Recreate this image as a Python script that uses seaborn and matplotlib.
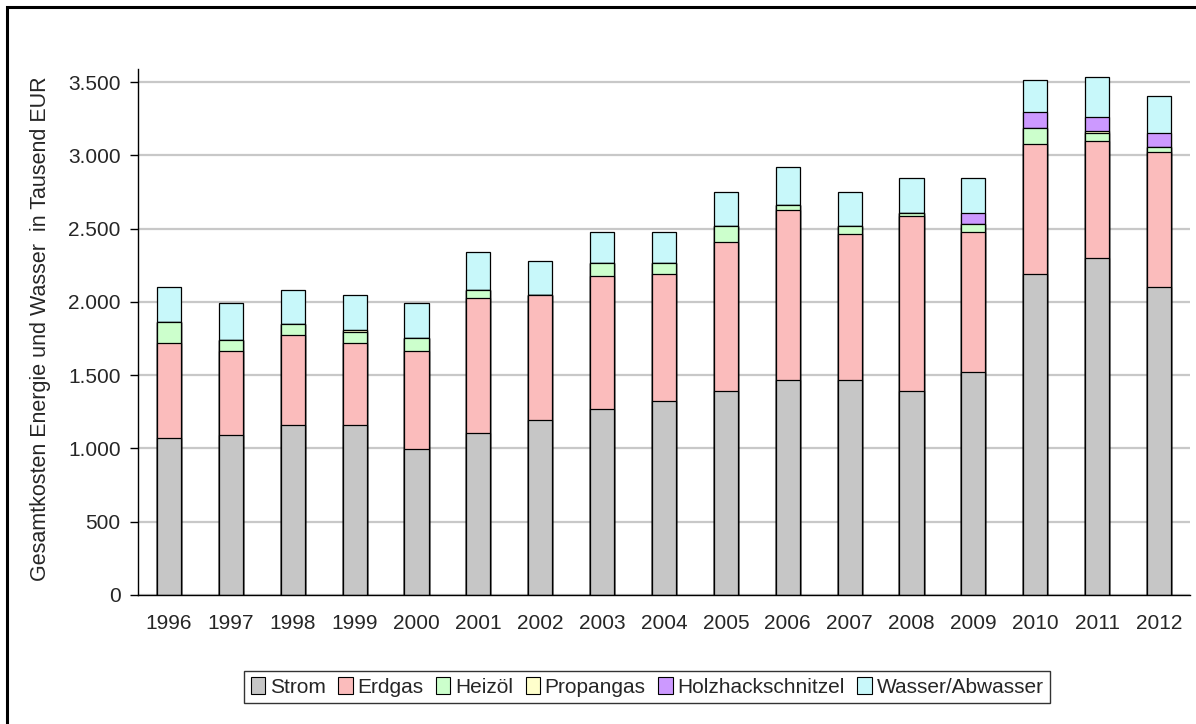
import matplotlib
matplotlib.use("Agg")
import matplotlib.pyplot as plt
import matplotlib.patches as mpatches
import seaborn as sns
import pandas as pd

# Werte in Tausend EUR
years = ["1996", "1997", "1998", "1999", "2000", "2001", "2002", "2003", "2004",
         "2005", "2006", "2007", "2008", "2009", "2010", "2011", "2012"]
strom = [1069, 1089, 1159, 1159, 997, 1106, 1196, 1269, 1322, 1393, 1466, 1466, 1393, 1522, 2192, 2302, 2102]
erdgas = [652, 576, 615, 562, 668, 919, 851, 906, 870, 1016, 1159, 996, 1196, 957, 888, 795, 922]
heizoel = [143, 73, 73, 73, 92, 58, 0, 90, 73, 109, 36, 56, 19, 56, 109, 55, 36]
propangas = [0, 0, 0, 17, 0, 0, 0, 0, 0, 0, 0, 0, 0, 0, 0, 18, 0]
holz = [0, 0, 0, 0, 0, 0, 0, 0, 0, 0, 0, 0, 0, 73, 107, 92, 92]
wasser = [238, 255, 236, 236, 236, 255, 235, 214, 214, 233, 258, 233, 236, 236, 216, 270, 253]

series = ["Strom", "Erdgas", "Heizöl", "Propangas", "Holzhackschnitzel", "Wasser/Abwasser"]
colors = ["#C6C6C6", "#FBBCBC", "#CCFFCC", "#FFFFCC", "#CC99FF", "#C8F8FA"]
ytick_vals = [0, 500, 1000, 1500, 2000, 2500, 3000, 3500]
ytick_labels = ["0", "500", "1.000", "1.500", "2.000", "2.500", "3.000", "3.500"]

df = pd.DataFrame({"Jahr": years, "Strom": strom, "Erdgas": erdgas, "Heizöl": heizoel,
                   "Propangas": propangas, "Holzhackschnitzel": holz, "Wasser/Abwasser": wasser})
cum = df[series].cumsum(axis=1)
cum["Jahr"] = df["Jahr"]

sns.set_style("white")
plt.rcParams["font.family"] = ["Liberation Sans", "DejaVu Sans"]
fs = 15

fig = plt.figure(figsize=(11.96, 7.24), dpi=100)
ax = fig.add_axes([138 / 1196, 129 / 724, 1052 / 1196, 526 / 724])

# gestapelte Balken: kumulierte Summen von oben nach unten zeichnen
for name, col in reversed(list(zip(series, colors))):
    sns.barplot(data=cum, x="Jahr", y=name, color=col, edgecolor="black", linewidth=0.9,
                width=0.39, errorbar=None, saturation=1, ax=ax)

ax.set_ylim(0, 3590)
ax.set_xlim(-0.5, len(years) - 0.5)
ax.set_yticks(ytick_vals)
ax.set_yticklabels(ytick_labels)
ax.yaxis.grid(True, color="#C8C8C8", linewidth=1.6)
ax.set_axisbelow(True)

ax.set_xticks(range(len(years)))
ax.set_xticklabels(years)
ax.set_xticks([i - 0.5 for i in range(len(years) + 1)], minor=True)
ax.tick_params(axis="x", which="major", length=0, pad=14, labelsize=fs)
ax.tick_params(axis="x", which="minor", length=4, width=1, color="black", direction="out")
ax.tick_params(axis="y", length=5.5, width=1, color="black", pad=7, labelsize=fs, left=True)

for s in ["top", "right"]:
    ax.spines[s].set_visible(False)
for s in ["left", "bottom"]:
    ax.spines[s].set_color("black")
    ax.spines[s].set_linewidth(1)

ax.set_xlabel("")
ax.set_ylabel("Gesamtkosten Energie und Wasser  in Tausend EUR", fontsize=15.5)
ax.yaxis.set_label_coords(-0.093, 0.507)
ax.yaxis.label.set_verticalalignment("center")

handles = [mpatches.Patch(facecolor=c, edgecolor="black", linewidth=0.8) for c in colors]
leg = fig.legend(handles, series, loc="center", bbox_to_anchor=(647 / 1196, 37 / 724), ncol=6,
                 fontsize=fs, frameon=True, fancybox=False, handlelength=0.7, handleheight=0.85,
                 handletextpad=0.22, columnspacing=0.6, borderpad=0.3)
leg.get_frame().set_edgecolor("black")
leg.get_frame().set_linewidth(1)

# Rahmen um die Grafik
fig.add_artist(mpatches.Rectangle((7 / 1196, -0.1), 1.2, (717 / 724) + 0.1, fill=False,
                                  edgecolor="black", linewidth=2.2, transform=fig.transFigure))

fig.savefig("out.png", dpi=100)
